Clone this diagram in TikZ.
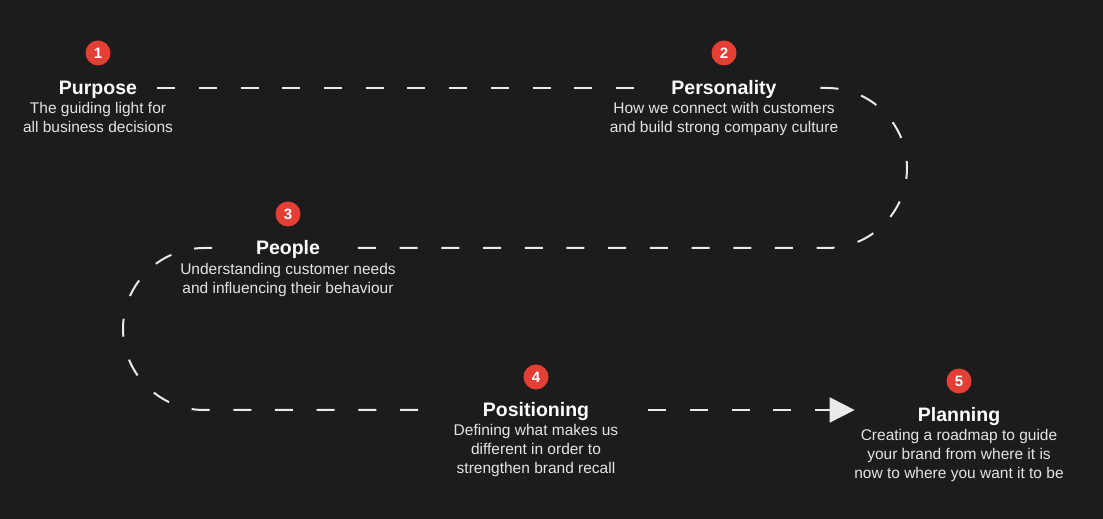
\documentclass[tikz,border=0pt]{standalone}
\usepackage{fontspec}
\setmainfont{Liberation Sans}
\usetikzlibrary{arrows.meta,positioning}
\definecolor{bg}{HTML}{1C1C1C}
\definecolor{badgered}{HTML}{E53E35}
\definecolor{linecol}{HTML}{EAEAEA}
\definecolor{subcol}{HTML}{E4E4E4}
\begin{document}
\begin{tikzpicture}[x=1pt,y=1pt,
  titlebox/.style={text=white, font=\fontsize{19.5}{23}\selectfont\bfseries,
    text height=14pt, text depth=0pt, inner xsep=20pt, inner ysep=0pt},
  subbox/.style={text=subcol, font=\fontsize{15.5}{19}\selectfont, align=center, inner sep=0pt},
  badgebox/.style={circle, fill=badgered, text=white, minimum size=25pt, inner sep=0pt,
    font=\fontsize{15}{15}\selectfont\bfseries},
  conn/.style={draw=linecol, line width=2pt, dash pattern=on 18pt off 23.7pt},
]
\fill[bg] (0,0) rectangle (1103,519);
\useasboundingbox (0,0) rectangle (1103,519);

% titles (line y positions: 88, 248, 410 px from top)
\node[titlebox] (purpose) at (98,431) {Purpose};
\node[titlebox] (personality) at (724,431) {Personality};
\node[titlebox] (people) at (288,271) {People};
\node[titlebox] (positioning) at (536,109) {Positioning};
\node[titlebox] (planning) at (959,104) {Planning};

% badges
\node[badgebox] (b1) at ([yshift=35pt]purpose.center) {1};
\node[badgebox] (b2) at ([yshift=35pt]personality.center) {2};
\node[badgebox] (b3) at ([yshift=34pt]people.center) {3};
\node[badgebox] (b4) at ([yshift=33pt]positioning.center) {4};
\node[badgebox] (b5) at ([yshift=34pt]planning.center) {5};

% subtitles
\node[subbox, below=7pt of purpose] (s1) {The guiding light for\\all business decisions};
\node[subbox, below=7pt of personality] (s2) {How we connect with customers\\and build strong company culture};
\node[subbox, below=8pt of people] (s3) {Understanding customer needs\\and influencing their behaviour};
\node[subbox, below=7pt of positioning] (s4) {Defining what makes us\\different in order to\\strengthen brand recall};
\node[subbox, below=7pt of planning] (s5) {Creating a roadmap to guide\\your brand from where it is\\now to where you want it to be};

% connectors
\draw[conn] (purpose.east) -- (personality.west);
\draw[conn, dash phase=18pt] (personality.east) -- (827,431)
  arc[start angle=90, end angle=-90, radius=80] -- (people.east);
\draw[conn, dash phase=18pt, shorten >=23pt] (people.west) -- (204,271)
  arc[start angle=90, end angle=270, radius=81] -- (positioning.west);
\draw[conn, -{Triangle[width=25pt,length=25pt]}, shorten <=39pt, shorten >=43pt]
  (positioning.east) -- (planning.west |- positioning.east);
\end{tikzpicture}
\end{document}
